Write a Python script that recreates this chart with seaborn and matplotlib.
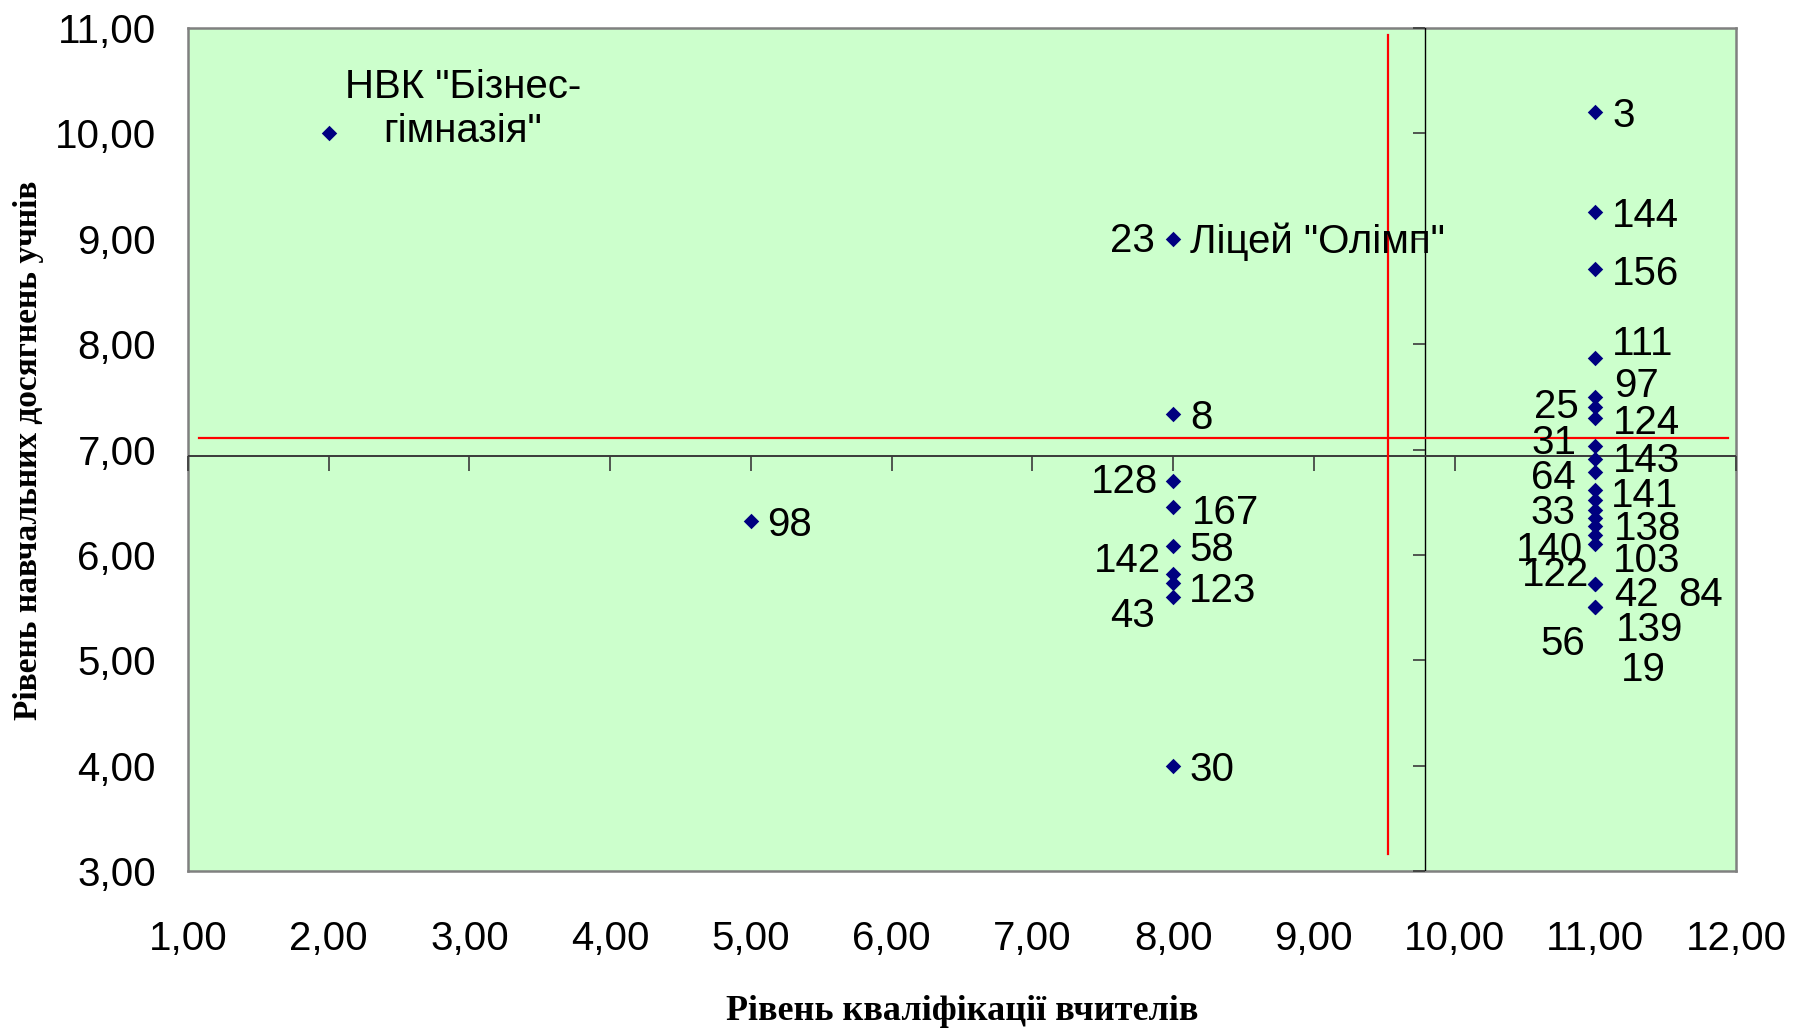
import matplotlib
matplotlib.use("Agg")
import matplotlib.pyplot as plt
import matplotlib.lines as mlines
import pandas as pd
import seaborn as sns

# ---------------- data ----------------
teacher_level = [2, 5,
                 8, 8, 8, 8, 8, 8, 8, 8, 8,
                 11, 11, 11, 11, 11, 11, 11, 11, 11, 11, 11,
                 11, 11, 11, 11, 11, 11, 11, 11, 11, 11]
student_level = [10.00, 6.32,
                 9.00, 7.34, 6.70, 6.45, 6.08, 5.82, 5.73, 5.60, 4.00,
                 10.20, 9.25, 8.71, 7.87, 7.50, 7.40, 7.30, 7.03, 6.91, 6.79, 6.62,
                 6.52, 6.43, 6.35, 6.27, 6.19, 6.10, 5.72, 5.72, 5.51, 5.51]
school_labels = ['НВК "Бізнес-\nгімназія"', "98",
                 "23", "8", "128", "167", "58", "142", "123", "43", "30",
                 "3", "144", "156", "111", "97", "25", "124", "31", "143", "64", "141",
                 "33", "138", "140", "103", "122", "84", "42", "19", "139", "56"]
school_names = {"23": 'Ліцей "Олімп"'}

x_ticks = [1, 2, 3, 4, 5, 6, 7, 8, 9, 10, 11, 12]
x_tick_labels = ["1,00", "2,00", "3,00", "4,00", "5,00", "6,00",
                 "7,00", "8,00", "9,00", "10,00", "11,00", "12,00"]
y_ticks = [3, 4, 5, 6, 7, 8, 9, 10, 11]
y_tick_labels = ["3,00", "4,00", "5,00", "6,00", "7,00", "8,00", "9,00", "10,00", "11,00"]

x_title = "Рівень кваліфікації вчителів"
y_title = "Рівень навчальних досягнень учнів"

# axis crossing lines and red reference (mean) lines
cross_x, cross_y = 9.79, 6.94
mean_x, mean_x_span = 9.53, (3.16, 10.93)
mean_y, mean_y_span = 7.11, (1.08, 11.94)

# ---------------- label placement (pixels, y down) ----------------
label_offsets = {
    "98": (39, 0), "23": (-41, -2), "8": (28, 0), "128": (-49, -3),
    "167": (52, 2), "58": (39, 0), "142": (-46, -17), "123": (49, 4),
    "43": (-41, 15), "30": (39, 0),
    "3": (28, 0), "144": (50, 0), "156": (50, 1), "111": (47, -18),
    "97": (41, -15), "25": (-39, -4), "124": (51, 1), "31": (-41, -7),
    "143": (51, -2), "64": (-42, 2), "141": (49, 2), "33": (-42, 9),
    "138": (52, 15), "140": (-46, 28), "103": (51, 31), "122": (-40, 36),
    "84": (105, 47), "42": (41, 7), "19": (48, 82), "139": (54, 19),
    "56": (-33, 33),
}
name_offset = (17, -1)
big_label_offset = (134, 9)   # baseline of last line, centre x

FS = 29
SANS = ["Liberation Sans", "DejaVu Sans"]
SERIF = ["Liberation Serif", "DejaVu Serif"]

# ---------------- figure ----------------
W, H = 1806, 1033
fig = plt.figure(figsize=(W / 100, H / 100), dpi=100)
fig.patch.set_facecolor("white")
L, R, T, B = 188, 1736, 28, 871
ax = fig.add_axes([L / W, 1 - B / H, (R - L) / W, (B - T) / H])
ax.set_facecolor("#CCFFCC")

df = pd.DataFrame({"teacher": teacher_level, "student": student_level,
                   "label": school_labels})
sns.scatterplot(data=df, x="teacher", y="student", marker="D", s=62,
                color="#000080", linewidth=0, ax=ax, zorder=6, legend=False)

ax.set_xlim(1, 12)
ax.set_ylim(3, 11)
ax.set_xticks(x_ticks)
ax.set_xticklabels(x_tick_labels, fontfamily=SANS, fontsize=FS)
ax.set_yticks(y_ticks)
ax.set_yticklabels(y_tick_labels, fontfamily=SANS, fontsize=FS)
ax.tick_params(axis="x", length=0, pad=35)
ax.tick_params(axis="y", length=0, pad=23)
ax.set_xlabel("")
ax.set_ylabel("")
ax.grid(False)
for sp in ax.spines.values():
    sp.set_color("#808080")
    sp.set_linewidth(1.8)

# internal axis lines (Excel axis crossing) with tick marks
ax.axvline(cross_x, color="black", lw=1.0, zorder=3)
ax.axhline(cross_y, color="#3a3a3a", lw=1.4, zorder=3)
ax.plot(x_ticks, [cross_y] * len(x_ticks), linestyle="none",
        marker=mlines.TICKDOWN, markersize=10.8, markeredgewidth=1.2,
        color="#3a3a3a", zorder=3, clip_on=False)
ax.plot([cross_x] * len(y_ticks), y_ticks, linestyle="none",
        marker=mlines.TICKLEFT, markersize=8.6, markeredgewidth=1.2,
        color="#3a3a3a", zorder=3, clip_on=False)

# red reference lines
ax.plot(list(mean_y_span), [mean_y, mean_y], color="#FF0000", lw=1.6, zorder=4)
ax.plot([mean_x, mean_x], list(mean_x_span), color="#FF0000", lw=1.6, zorder=4)

# data labels
for xv, yv, lab in zip(teacher_level, student_level, school_labels):
    if lab in label_offsets:
        dx, dy = label_offsets[lab]
        ax.annotate(lab, (xv, yv), xytext=(dx, -dy), textcoords="offset pixels",
                    ha="center", va="center_baseline", fontsize=FS,
                    fontfamily=SANS, color="black", zorder=7)
    else:
        dx, dy = big_label_offset
        ax.annotate(lab, (xv, yv), xytext=(dx, -dy), textcoords="offset pixels",
                    ha="center", va="baseline", multialignment="center",
                    fontsize=FS, fontfamily=SANS, color="black", zorder=7,
                    linespacing=1.2)
    if lab in school_names:
        dx, dy = name_offset
        ax.annotate(school_names[lab], (xv, yv), xytext=(dx, -dy),
                    textcoords="offset pixels", ha="left", va="center_baseline",
                    fontsize=FS, fontfamily=SANS, color="black", zorder=7)

# axis titles
fig.text(962 / W, 1 - 1008 / H, x_title, ha="center", va="center_baseline",
         fontsize=26, fontweight="bold", fontfamily=SERIF)
fig.text(29 / W, 1 - 450 / H, y_title, ha="center", va="center",
         rotation=90, fontsize=24, fontweight="bold", fontfamily=SERIF)

fig.savefig("out.png", dpi=100, facecolor="white")
